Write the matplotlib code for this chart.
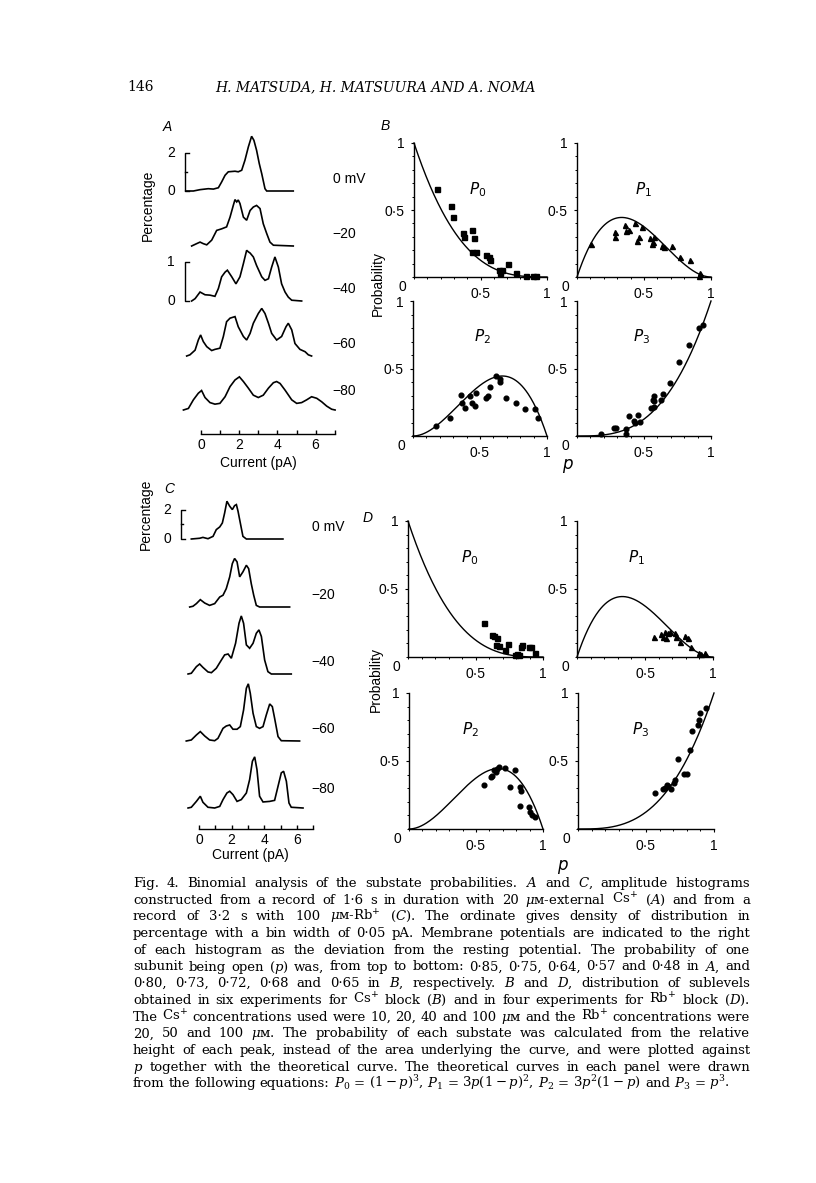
import numpy as np
import matplotlib
matplotlib.use("Agg")
import matplotlib.pyplot as plt
from matplotlib.ticker import FixedLocator, FixedFormatter, MultipleLocator

W, H = 816, 1183
SANS = "Liberation Sans"
SERIF = ["DejaVu Serif", "DejaVu Sans"]

# ---- panel A: amplitude histograms, Cs+ (current in pA, density in %) ----
a_labels = ["0 mV", "\u221220", "\u221240", "\u221260", "\u221280"]
a_cur = [
    [-0.80, -0.40, -0.05, 0.38, 0.65, 0.91, 1.08, 1.26, 1.43, 1.78, 1.95, 2.13, 2.30, 2.48, 2.65, 2.77, 2.91,
     3.05, 3.18, 3.35, 3.44, 4.83],
    [-0.49, -0.23, -0.05, 0.12, 0.30, 0.56, 0.82, 1.08, 1.34, 1.52, 1.69, 1.78, 1.87, 1.95, 2.04, 2.22, 2.39,
     2.57, 2.74, 2.91, 3.00, 3.09, 3.26, 3.44, 3.61, 3.79, 4.83],
    [-0.49, -0.31, -0.05, 0.21, 0.47, 0.73, 0.91, 1.08, 1.26, 1.38, 1.61, 1.83, 2.04, 2.22, 2.39, 2.48, 2.57,
     2.74, 2.91, 3.18, 3.35, 3.53, 3.70, 3.87, 4.05, 4.22, 4.40, 4.57, 4.75, 5.27],
    [-0.75, -0.58, -0.31, -0.14, -0.02, 0.12, 0.30, 0.56, 0.73, 0.99, 1.17, 1.34, 1.52, 1.78, 1.95, 2.22, 2.39,
     2.57, 2.74, 3.00, 3.18, 3.35, 3.53, 3.70, 3.96, 4.22, 4.45, 4.57, 4.75, 4.92, 5.18, 5.45, 5.62, 5.79],
    [-0.92, -0.66, -0.40, -0.14, 0.03, 0.21, 0.47, 0.73, 0.99, 1.26, 1.52, 1.78, 2.01, 2.22, 2.48, 2.74, 3.00,
     3.26, 3.53, 3.79, 3.96, 4.14, 4.40, 4.75, 5.01, 5.27, 5.53, 5.79, 6.06, 6.32, 6.58, 6.84, 7.02],
]
a_pct = [
    [0, 0, 0.07, 0.12, 0.10, 0.17, 0.47, 0.82, 1.00, 1.03, 1.00, 1.08, 1.60, 2.30, 2.85, 2.64, 2.12,
     1.43, 0.90, 0.12, 0, 0],
    [0, 0.06, 0.10, 0.06, 0.03, 0.15, 0.40, 0.44, 0.49, 0.74, 1.04, 1.19, 1.13, 1.18, 1.09, 0.74, 0.66,
     0.91, 1.00, 1.04, 1.00, 0.96, 0.57, 0.32, 0.10, 0.02, 0],
    [0, 0.06, 0.23, 0.16, 0.15, 0.12, 0.32, 0.62, 0.74, 0.79, 0.62, 0.44, 0.62, 0.96, 1.30, 1.26, 1.23,
     1.13, 0.91, 0.62, 0.53, 0.57, 0.87, 1.13, 0.87, 0.44, 0.23, 0.10, 0.02, 0],
    [0, 0.03, 0.15, 0.41, 0.54, 0.37, 0.24, 0.14, 0.17, 0.20, 0.50, 0.88, 0.97, 1.01, 0.75, 0.50, 0.41,
     0.58, 0.84, 1.09, 1.22, 1.09, 0.84, 0.58, 0.41, 0.50, 0.75, 0.84, 0.67, 0.32, 0.17, 0.11, 0.03, 0],
    [0, 0.04, 0.26, 0.43, 0.50, 0.32, 0.19, 0.15, 0.17, 0.34, 0.60, 0.77, 0.85, 0.73, 0.56, 0.38, 0.32,
     0.38, 0.56, 0.70, 0.73, 0.68, 0.51, 0.26, 0.17, 0.19, 0.26, 0.34, 0.30, 0.21, 0.10, 0.02, 0],
]

# ---- panel C: amplitude histograms, Rb+ ----
c_cur = [
    [-0.47, 0.04, 0.24, 0.55, 0.86, 1.06, 1.27, 1.43, 1.57, 1.71, 1.88, 2.04, 2.18, 2.29, 2.39, 2.53, 2.69,
     2.90, 5.14],
    [-0.57, -0.37, -0.16, 0.08, 0.35, 0.65, 0.96, 1.27, 1.47, 1.67, 1.88, 2.04, 2.18, 2.33, 2.49, 2.69, 2.90,
     3.04, 3.20, 3.35, 3.51, 3.71, 5.55],
    [-0.67, -0.47, -0.16, 0.04, 0.24, 0.55, 0.76, 1.06, 1.37, 1.57, 1.78, 1.98, 2.24, 2.45, 2.59, 2.73, 2.90,
     3.10, 3.31, 3.51, 3.67, 3.82, 4.02, 4.22, 4.43, 5.65],
    [-0.78, -0.47, -0.16, 0.08, 0.35, 0.65, 0.96, 1.16, 1.47, 1.67, 1.88, 2.08, 2.33, 2.53, 2.73, 2.90, 3.02,
     3.14, 3.31, 3.51, 3.71, 3.92, 4.12, 4.33, 4.49, 4.63, 4.84, 5.04, 6.16],
    [-0.67, -0.47, -0.16, 0.08, 0.24, 0.55, 0.96, 1.27, 1.47, 1.71, 1.88, 2.08, 2.33, 2.59, 2.90, 3.10, 3.27,
     3.41, 3.55, 3.71, 3.92, 4.33, 4.63, 4.84, 5.04, 5.18, 5.35, 5.51, 5.65, 6.37],
]
c_pct = [
    [0, 0.05, 0.11, 0.02, 0.18, 0.64, 0.82, 1.09, 1.77, 2.57, 2.23, 2.00, 2.27, 2.34, 1.89, 1.09, 0.18, 0, 0],
    [0, 0.05, 0.23, 0.50, 0.27, 0.11, 0.23, 0.68, 0.80, 1.25, 2.05, 2.95, 3.30, 3.07, 2.05, 2.39, 2.84,
     2.61, 1.59, 0.80, 0.11, 0, 0],
    [0, 0.05, 0.50, 0.68, 0.45, 0.14, 0.09, 0.39, 0.95, 1.30, 1.36, 1.07, 2.09, 3.45, 3.95, 3.45, 1.98,
     1.75, 2.09, 2.77, 3.00, 2.55, 0.95, 0.16, 0, 0],
    [0, 0.07, 0.41, 0.64, 0.34, 0.07, 0.02, 0.18, 0.86, 1.02, 1.09, 0.80, 0.80, 0.98, 2.11, 3.59, 3.89,
     3.25, 1.89, 0.98, 0.86, 0.98, 1.77, 2.52, 2.34, 1.55, 0.30, 0.02, 0],
    [0, 0.05, 0.45, 0.80, 0.39, 0.05, 0, 0.11, 0.57, 1.02, 1.14, 0.91, 0.45, 0.57, 1.02, 1.93, 3.18,
     3.48, 2.61, 0.80, 0.41, 0.45, 0.52, 1.48, 2.39, 2.50, 1.82, 0.34, 0.05, 0],
]

# ---- panel B: sublevel probabilities vs p, Cs+ block ----
b_p0_x = [0.175, 0.275, 0.29, 0.365, 0.375, 0.433, 0.453, 0.433, 0.465, 0.545, 0.565, 0.57, 0.64, 0.65,
          0.658, 0.708, 0.77, 0.84, 0.895, 0.92]
b_p0_y = [0.655, 0.53, 0.45, 0.325, 0.295, 0.35, 0.288, 0.188, 0.188, 0.163, 0.15, 0.125, 0.055, 0.03,
          0.05, 0.095, 0.03, 0.005, 0.005, 0.005]
b_p1_x = [0.107, 0.286, 0.286, 0.36, 0.366, 0.386, 0.435, 0.445, 0.46, 0.485, 0.547, 0.56, 0.567, 0.572,
          0.634, 0.647, 0.709, 0.771, 0.84, 0.92, 0.908]
b_p1_y = [0.245, 0.338, 0.30, 0.388, 0.345, 0.35, 0.40, 0.27, 0.30, 0.375, 0.288, 0.25, 0.263, 0.30,
          0.23, 0.225, 0.23, 0.15, 0.125, 0.03, 0.008]
b_p2_x = [0.169, 0.279, 0.356, 0.368, 0.386, 0.423, 0.443, 0.46, 0.473, 0.542, 0.56, 0.572, 0.622, 0.647,
          0.647, 0.697, 0.771, 0.833, 0.908, 0.933]
b_p2_y = [0.074, 0.136, 0.304, 0.247, 0.205, 0.296, 0.242, 0.222, 0.316, 0.279, 0.296, 0.365, 0.444, 0.42,
          0.40, 0.284, 0.247, 0.198, 0.198, 0.131]
b_p3_x = [0.179, 0.279, 0.291, 0.366, 0.366, 0.386, 0.428, 0.435, 0.453, 0.473, 0.552, 0.565, 0.572, 0.577,
          0.577, 0.627, 0.644, 0.697, 0.764, 0.833, 0.908, 0.938]
b_p3_y = [0.012, 0.057, 0.057, 0.049, 0.015, 0.148, 0.114, 0.099, 0.156, 0.104, 0.205, 0.267, 0.217, 0.296,
          0.259, 0.267, 0.311, 0.39, 0.551, 0.674, 0.798, 0.822]

# ---- panel D: sublevel probabilities vs p, Rb+ block ----
d_p0_x = [0.563, 0.625, 0.638, 0.658, 0.65, 0.677, 0.72, 0.744, 0.794, 0.819, 0.811, 0.836, 0.844, 0.893,
          0.911, 0.943]
d_p0_y = [0.252, 0.164, 0.152, 0.14, 0.091, 0.081, 0.049, 0.093, 0.012, 0.012, 0.02, 0.074, 0.086, 0.074,
          0.074, 0.029]
d_p1_x = [0.566, 0.62, 0.632, 0.645, 0.657, 0.669, 0.681, 0.718, 0.73, 0.755, 0.792, 0.816, 0.836, 0.897,
          0.914, 0.939]
d_p1_y = [0.147, 0.172, 0.147, 0.184, 0.14, 0.176, 0.184, 0.176, 0.147, 0.11, 0.152, 0.14, 0.074, 0.029,
          0.025, 0.029]
d_p2_x = [0.563, 0.613, 0.623, 0.635, 0.65, 0.66, 0.668, 0.718, 0.75, 0.793, 0.825, 0.838, 0.83, 0.893,
          0.905, 0.918, 0.943]
d_p2_y = [0.326, 0.382, 0.392, 0.431, 0.417, 0.441, 0.456, 0.449, 0.309, 0.431, 0.309, 0.277, 0.172, 0.162,
          0.123, 0.105, 0.086]
d_p3_x = [0.565, 0.622, 0.639, 0.651, 0.663, 0.681, 0.705, 0.713, 0.737, 0.781, 0.799, 0.823, 0.835, 0.885,
          0.892, 0.897, 0.941]
d_p3_y = [0.265, 0.294, 0.301, 0.326, 0.314, 0.294, 0.338, 0.363, 0.515, 0.407, 0.407, 0.583, 0.718, 0.767,
          0.804, 0.853, 0.89]

caption = [
    "Fig. 4. Binomial analysis of the substate probabilities. $A$ and $C$, amplitude histograms",
    "constructed from a record of 1\u00b76 s in duration with 20 $\\mu$\u1d0d-external Cs$^{+}$ ($A$) and from a",
    "record of 3\u00b72 s with 100 $\\mu$\u1d0d-Rb$^{+}$ ($C$). The ordinate gives density of distribution in",
    "percentage with a bin width of 0\u00b705 pA. Membrane potentials are indicated to the right",
    "of each histogram as the deviation from the resting potential. The probability of one",
    "subunit being open ($p$) was, from top to bottom: 0\u00b785, 0\u00b775, 0\u00b764, 0\u00b757 and 0\u00b748 in $A$, and",
    "0\u00b780, 0\u00b773, 0\u00b772, 0\u00b768 and 0\u00b765 in $B$, respectively. $B$ and $D$, distribution of sublevels",
    "obtained in six experiments for Cs$^{+}$ block ($B$) and in four experiments for Rb$^{+}$ block ($D$).",
    "The Cs$^{+}$ concentrations used were 10, 20, 40 and 100 $\\mu$\u1d0d and the Rb$^{+}$ concentrations were",
    "20, 50 and 100 $\\mu$\u1d0d. The probability of each substate was calculated from the relative",
    "height of each peak, instead of the area underlying the curve, and were plotted against",
    "$p$ together with the theoretical curve. The theoretical curves in each panel were drawn",
    "from the following equations: $P_0$ = $(1-p)^3$, $P_1$ = $3p(1-p)^2$, $P_2$ = $3p^2(1-p)$ and $P_3$ = $p^3$.",
]

fig = plt.figure(figsize=(W / 100, H / 100), dpi=100)
fig.patch.set_facecolor("white")


def px_axes(x0, y0, x1, y1):
    return fig.add_axes([x0 / W, 1 - y1 / H, (x1 - x0) / W, (y1 - y0) / H])


def ftext(x, y, s, **kw):
    kw.setdefault("fontfamily", SANS)
    kw.setdefault("fontsize", 10)
    kw.setdefault("ha", "center")
    kw.setdefault("va", "center")
    return fig.text(x / W, 1 - y / H, s, **kw)


def hist_column(x_zero, px_per_pa, baselines, px_per_unit, curs, pcts, labels, axis_y, bar_specs):
    xmin, xmax = -1.2, 7.5
    x0 = x_zero + xmin * px_per_pa
    x1 = x_zero + xmax * px_per_pa
    for i, (cur, pct) in enumerate(zip(curs, pcts)):
        base = baselines[i]
        top = base - 70
        ax = px_axes(x0, top, x1, base)
        ax.set_xlim(xmin, xmax)
        ax.set_ylim(0, 70 / px_per_unit[i])
        ax.axis("off")
        ax.plot(cur, pct, color="black", lw=1.2, clip_on=False, solid_joinstyle="miter")
        ftext(x_zero + 6.9 * px_per_pa, base - 12 if i < 4 else base - 19, labels[i], ha="left")
        if i in bar_specs:
            bx, top_val, mid = bar_specs[i]
            serif = 0.22
            ax.plot([bx + serif, bx, bx, bx + serif], [0, 0, top_val, top_val], color="black", lw=1.0,
                    clip_on=False)
            if mid is not None:
                ax.plot([bx, bx + serif * 0.6], [mid, mid], color="black", lw=1.0, clip_on=False)
            bpx = x_zero + bx * px_per_pa
            ftext(bpx - 14, base, "0")
            ftext(bpx - 14, base - top_val * px_per_unit[i], "%g" % top_val)
    # current axis
    ax = px_axes(x0, axis_y - 10, x1, axis_y)
    ax.set_xlim(xmin, xmax)
    ax.set_ylim(0, 1)
    for s in ["left", "right", "top"]:
        ax.spines[s].set_visible(False)
    ax.spines["bottom"].set_bounds(0, 7)
    ax.spines["bottom"].set_linewidth(1.0)
    ax.set_yticks([])
    ax.xaxis.set_major_locator(FixedLocator(range(8)))
    ax.xaxis.set_major_formatter(FixedFormatter(["0", "", "2", "", "4", "", "6", ""]))
    ax.tick_params(axis="x", direction="in", length=3, width=1.0, pad=3)
    for t in ax.get_xticklabels():
        t.set_fontfamily(SANS)
        t.set_fontsize(10)
    ax.patch.set_alpha(0)


# panel A
hist_column(201, 19.1, [191, 246, 301, 356, 410], [19.2, 39, 39, 39, 39], a_cur, a_pct, a_labels, 434,
            {0: (-0.84, 2, 1), 2: (-0.84, 1, None)})
ftext(258, 463, "Current (pA)")
ftext(148, 205, "Percentage", rotation=90)
ftext(167, 127, "A", style="italic")

# panel C
hist_column(199, 16.33, [539, 607, 674, 741, 808], [14.7] * 5, c_cur, c_pct, a_labels, 829,
            {0: (-1.1, 2, 1)})
ftext(250, 855, "Current (pA)")
ftext(146, 514, "Percentage", rotation=90)
ftext(169, 489, "C", style="italic")

pgrid = np.linspace(0, 1, 200)
theory = [(1 - pgrid) ** 3, 3 * pgrid * (1 - pgrid) ** 2, 3 * pgrid ** 2 * (1 - pgrid), pgrid ** 3]
sub_names = [r"$P_0$", r"$P_1$", r"$P_2$", r"$P_3$"]
markers = ["s", "^", "o", "o"]


def prob_panel(box, k, xs, ys, name_xy):
    ax = px_axes(*box)
    ax.set_xlim(0, 1)
    ax.set_ylim(0, 1)
    for s in ["right", "top"]:
        ax.spines[s].set_visible(False)
    for s in ["left", "bottom"]:
        ax.spines[s].set_linewidth(1.0)
    ax.plot(pgrid, theory[k], color="black", lw=1.0, clip_on=False)
    ax.plot(xs, ys, linestyle="none", marker=markers[k], ms=3.6 if k < 2 else 3.4, color="black",
            clip_on=False)
    ax.xaxis.set_major_locator(FixedLocator([0.5, 1]))
    ax.xaxis.set_major_formatter(FixedFormatter(["0\u00b75", "1"]))
    ax.yaxis.set_major_locator(FixedLocator([0.5, 1]))
    ax.yaxis.set_major_formatter(FixedFormatter(["0\u00b75", "1"]))
    ax.xaxis.set_minor_locator(MultipleLocator(0.1))
    ax.yaxis.set_minor_locator(MultipleLocator(0.1))
    ax.tick_params(which="major", direction="out", length=2, width=0.8, pad=5, labelsize=10)
    ax.tick_params(which="minor", direction="out", length=1.5, width=0.7)
    for t in ax.get_xticklabels() + ax.get_yticklabels():
        t.set_fontfamily(SANS)
    ax.text(-0.085, -0.075, "0", transform=ax.transAxes, ha="center", va="center",
            fontfamily=SANS, fontsize=10)
    ax.patch.set_alpha(0)
    ftext(name_xy[0], name_xy[1], sub_names[k], fontsize=11, math_fontfamily="dejavusans")


# panel B
prob_panel((414, 143, 547, 277), 0, b_p0_x, b_p0_y, (478, 190))
prob_panel((577, 143, 711, 277), 1, b_p1_x, b_p1_y, (643, 190))
prob_panel((413, 301, 547, 436), 2, b_p2_x, b_p2_y, (482, 337))
prob_panel((577, 301, 711, 436), 3, b_p3_x, b_p3_y, (642, 337))
ftext(385, 126, "B", style="italic")
ftext(378, 283, "Probability", rotation=90)
ftext(568, 466, "$p$", fontsize=12, math_fontfamily="dejavusans")

# panel D
prob_panel((408, 521, 543, 657), 0, d_p0_x, d_p0_y, (470, 558))
prob_panel((577, 521, 713, 657), 1, d_p1_x, d_p1_y, (636, 558))
prob_panel((409, 693, 543, 829), 2, d_p2_x, d_p2_y, (470, 730))
prob_panel((578, 693, 714, 829), 3, d_p3_x, d_p3_y, (641, 730))
ftext(368, 518, "D", style="italic")
ftext(376, 680, "Probability", rotation=90)
ftext(563, 867, "$p$", fontsize=12, math_fontfamily="dejavusans")

# header
ftext(127, 91, "146", fontfamily=SERIF, fontsize=10, ha="left", va="baseline")
ftext(375, 91, "H. MATSUDA, H. MATSUURA AND A. NOMA", fontfamily=SERIF, fontsize=10, style="italic",
      va="baseline")

# caption, justified word by word
renderer = fig.canvas.get_renderer()
cx0, cx1 = 133, 750
for li, line in enumerate(caption):
    base = 887 + li * 16.7
    words = line.split(" ")
    texts = [ftext(0, base, w, fontfamily=SERIF, fontsize=9.5, ha="left", va="baseline",
                   math_fontfamily="dejavuserif") for w in words]
    widths = [t.get_window_extent(renderer).width for t in texts]
    if li == len(caption) - 1:
        gap = 4.0
    else:
        gap = max(1.5, (cx1 - cx0 - sum(widths)) / (len(words) - 1))
    x = cx0
    for t, w in zip(texts, widths):
        t.set_position((x / W, 1 - base / H))
        x += w + gap

fig.savefig("out.png", dpi=100, facecolor="white")
